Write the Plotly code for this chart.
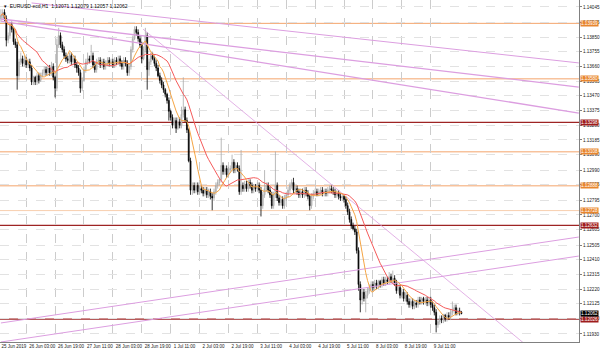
import plotly.graph_objects as go
import pandas as pd

# ---------------- data ----------------
first_open = 1.1397
closes = [
 1.1399,1.1401,1.1397,1.1383,1.1386,1.1393,1.1390,1.1382,1.1380,1.1360,
 1.1369,1.1371,1.1368,1.1370,1.1367,1.1369,1.1365,1.1356,1.1359,1.1356,
 1.1360,1.1357,1.1360,1.1362,1.1364,1.1362,1.1365,1.1362,1.1366,1.1359,
 1.1352,1.1380,1.1386,1.1380,1.1377,1.1373,1.1371,1.1370,1.1373,1.1369,
 1.1371,1.1367,1.1365,1.1362,1.1352,1.1357,1.1364,1.1369,1.1371,1.1370,
 1.1373,1.1367,1.1364,1.1369,1.1370,1.1367,1.1369,1.1366,1.1368,1.1370,
 1.1368,1.1369,1.1367,1.1370,1.1369,1.1371,1.1368,1.1366,1.1370,1.1368,
 1.1362,1.1366,1.1377,1.1384,1.1390,1.1388,1.1384,1.1380,1.1371,1.1377,
 1.1386,1.1364,1.1369,1.1373,1.1371,1.1368,1.1365,1.1360,1.1357,1.1354,
 1.1351,1.1348,1.1344,1.1337,1.1333,1.1328,1.1331,1.1326,1.1330,1.1328,
 1.1335,1.1338,1.1331,1.1325,1.1305,1.1286,1.1289,1.1286,1.1289,1.1285,
 1.1287,1.1286,1.1284,1.1286,1.1283,1.1285,1.1282,1.1281,1.1285,1.1289,
 1.1291,1.1293,1.1302,1.1298,1.1300,1.1296,1.1299,1.1300,1.1304,1.1299,
 1.1302,1.1300,1.1285,1.1289,1.1287,1.1290,1.1287,1.1291,1.1289,1.1286,
 1.1288,1.1287,1.1289,1.1286,1.1276,1.1283,1.1287,1.1289,1.1286,1.1283,
 1.1276,1.1283,1.1289,1.1281,1.1278,1.1280,1.1276,1.1281,1.1283,1.1286,
 1.1289,1.1291,1.1286,1.1287,1.1285,1.1283,1.1285,1.1283,1.1286,1.1284,
 1.1282,1.1276,1.1282,1.1284,1.1285,1.1283,1.1285,1.1286,1.1284,1.1285,
 1.1284,1.1286,1.1287,1.1286,1.1285,1.1283,1.1284,1.1282,1.1281,1.1282,
 1.1280,1.1276,1.1272,1.1267,1.1263,1.1261,1.1259,1.1247,1.1225,1.1215,
 1.1220,1.1216,1.1218,1.1221,1.1223,1.1225,1.1223,1.1226,1.1224,1.1227,
 1.1225,1.1228,1.1226,1.1228,1.1227,1.1230,1.1228,1.1229,1.1226,1.1221,
 1.1223,1.1218,1.1220,1.1216,1.1218,1.1214,1.1212,1.1214,1.1211,1.1213,
 1.1212,1.1215,1.1214,1.1216,1.1214,1.1215,1.1213,1.1215,1.1212,1.1210,
 1.1207,1.1199,1.1201,1.1203,1.1202,1.1205,1.1203,1.1205,1.1204,1.1207,
 1.1208,1.1210,1.1206,1.1208,1.12071,1.12062]
highs = [
 1.1403,1.1403,1.1403,1.1399,1.1388,1.1395,1.1395,1.1391,1.1384,1.1382,
 1.1371,1.1375,1.1373,1.1373,1.1372,1.1371,1.1371,1.1367,1.1360,1.1360,
 1.1362,1.1362,1.1362,1.1364,1.1366,1.1366,1.1367,1.1367,1.1369,1.1368,
 1.1360,1.1384,1.1391,1.1388,1.1382,1.1379,1.1375,1.1373,1.1375,1.1375,
 1.1373,1.1373,1.1369,1.1367,1.1364,1.1359,1.1366,1.1371,1.1375,1.1373,
 1.1380,1.1375,1.1369,1.1371,1.1372,1.1372,1.1371,1.1371,1.1370,1.1372,
 1.1372,1.1371,1.1371,1.1372,1.1372,1.1373,1.1373,1.1370,1.1372,1.1372,
 1.1370,1.1368,1.1379,1.1386,1.1392,1.1392,1.1390,1.1386,1.1382,1.1379,
 1.1391,1.1388,1.1371,1.1375,1.1375,1.1373,1.1370,1.1367,1.1362,1.1359,
 1.1356,1.1352,1.1349,1.1346,1.1338,1.1335,1.1333,1.1333,1.1333,1.1333,
 1.1340,1.1359,1.1340,1.1333,1.1326,1.1307,1.1291,1.1291,1.1291,1.1291,
 1.1289,1.1289,1.1288,1.1288,1.1288,1.1287,1.1287,1.1284,1.1287,1.1291,
 1.1293,1.1294,1.1320,1.1304,1.1302,1.1302,1.1301,1.1302,1.1309,1.1306,
 1.1304,1.1304,1.1302,1.1312,1.1291,1.1292,1.1292,1.1293,1.1293,1.1291,
 1.1290,1.1290,1.1291,1.1291,1.1288,1.1285,1.1299,1.1291,1.1291,1.1288,
 1.1285,1.1285,1.1311,1.1291,1.1283,1.1282,1.1282,1.1283,1.1285,1.1288,
 1.1291,1.1293,1.1294,1.1289,1.1289,1.1287,1.1287,1.1287,1.1288,1.1288,
 1.1286,1.1283,1.1284,1.1286,1.1287,1.1287,1.1287,1.1288,1.1288,1.1287,
 1.1287,1.1288,1.1289,1.1289,1.1288,1.1287,1.1286,1.1286,1.1284,1.1283,
 1.1283,1.1282,1.1278,1.1274,1.1269,1.1265,1.1263,1.1261,1.1249,1.1227,
 1.1222,1.1222,1.1221,1.1223,1.1225,1.1227,1.1227,1.1228,1.1228,1.1228,
 1.1228,1.1230,1.1230,1.1230,1.1230,1.1233,1.1232,1.1234,1.1231,1.1228,
 1.1225,1.1225,1.1222,1.1222,1.1220,1.1220,1.1216,1.1216,1.1216,1.1215,
 1.1215,1.1217,1.1217,1.1217,1.1217,1.1217,1.1217,1.1217,1.1217,1.1214,
 1.1212,1.1209,1.1203,1.1205,1.1205,1.1206,1.1206,1.1207,1.1207,1.1209,
 1.1214,1.1212,1.1212,1.1210,1.1210,1.12079]
lows = [
 1.1395,1.1397,1.1395,1.1379,1.1381,1.1384,1.1388,1.1380,1.1378,1.1351,
 1.1357,1.1367,1.1366,1.1366,1.1365,1.1365,1.1363,1.1354,1.1354,1.1354,
 1.1354,1.1355,1.1356,1.1359,1.1360,1.1360,1.1360,1.1360,1.1360,1.1357,
 1.1346,1.1350,1.1378,1.1378,1.1375,1.1371,1.1369,1.1368,1.1368,1.1367,
 1.1367,1.1365,1.1362,1.1360,1.1349,1.1350,1.1356,1.1362,1.1367,1.1368,
 1.1368,1.1365,1.1362,1.1362,1.1367,1.1365,1.1365,1.1364,1.1364,1.1366,
 1.1366,1.1366,1.1365,1.1365,1.1367,1.1367,1.1366,1.1364,1.1364,1.1366,
 1.1360,1.1360,1.1364,1.1375,1.1383,1.1386,1.1382,1.1378,1.1368,1.1370,
 1.1375,1.1351,1.1360,1.1367,1.1370,1.1366,1.1363,1.1359,1.1355,1.1352,
 1.1349,1.1346,1.1342,1.1331,1.1331,1.1326,1.1326,1.1323,1.1325,1.1326,
 1.1326,1.1333,1.1330,1.1323,1.1304,1.1283,1.1283,1.1284,1.1284,1.1283,
 1.1283,1.1284,1.1282,1.1282,1.1281,1.1281,1.1280,1.1273,1.1279,1.1283,
 1.1287,1.1289,1.1291,1.1296,1.1296,1.1294,1.1294,1.1297,1.1298,1.1297,
 1.1297,1.1298,1.1283,1.1283,1.1285,1.1285,1.1285,1.1285,1.1287,1.1284,
 1.1284,1.1285,1.1285,1.1284,1.1269,1.1274,1.1281,1.1285,1.1284,1.1281,
 1.1274,1.1274,1.1281,1.1279,1.1276,1.1276,1.1274,1.1274,1.1279,1.1281,
 1.1284,1.1287,1.1284,1.1284,1.1283,1.1281,1.1281,1.1281,1.1281,1.1282,
 1.1280,1.1273,1.1274,1.1280,1.1282,1.1282,1.1282,1.1283,1.1282,1.1282,
 1.1282,1.1282,1.1284,1.1284,1.1283,1.1281,1.1281,1.1280,1.1279,1.1279,
 1.1278,1.1274,1.1270,1.1265,1.1261,1.1260,1.1257,1.1245,1.1221,1.1207,
 1.1212,1.1214,1.1207,1.1216,1.1219,1.1221,1.1221,1.1221,1.1222,1.1222,
 1.1223,1.1223,1.1224,1.1224,1.1225,1.1225,1.1226,1.1226,1.1224,1.1219,
 1.1219,1.1216,1.1216,1.1214,1.1214,1.1212,1.1210,1.1210,1.1209,1.1209,
 1.1210,1.1210,1.1212,1.1212,1.1212,1.1212,1.1211,1.1211,1.1210,1.1208,
 1.1205,1.1194,1.1197,1.1199,1.1200,1.1200,1.1201,1.1201,1.1202,1.1202,
 1.1205,1.1206,1.1205,1.1205,1.1205,1.12057]

time_tick_bars = [0, 14, 30, 46, 62, 78, 94, 110, 126, 142, 158, 174, 190, 206, 222, 238]
time_tick_labels = ["25 Jun 2019", "26 Jun 03:00", "26 Jun 19:00", "27 Jun 11:00",
                    "28 Jun 03:00", "28 Jun 19:00", "1 Jul 11:00", "2 Jul 03:00",
                    "2 Jul 19:00", "3 Jul 11:00", "4 Jul 03:00", "4 Jul 19:00",
                    "5 Jul 11:00", "8 Jul 03:00", "8 Jul 19:00", "9 Jul 11:00"]
price_ticks = [1.14045, 1.13945, 1.13850, 1.13755, 1.13660, 1.13565, 1.13470, 1.13375,
               1.13280, 1.13185, 1.13090, 1.12990, 1.12895, 1.12795, 1.12700, 1.12605,
               1.12505, 1.12410, 1.12315, 1.12220, 1.12125, 1.12030, 1.11930]

levels = [1.13939, 1.13580, 1.13298, 1.13108, 1.12888, 1.12728, 1.12632, 1.12026]
level_kind = ["o", "o", "r", "o", "o", "lo", "r", "r"]

# trend lines: (bar index pair, price pair)
trend_bars = [[17, 320], [0, 320], [0, 320], [78.7, 320], [0, 320], [0, 320]]
trend_prices = [[1.14071, 1.13683], [1.13967, 1.13527], [1.13954, 1.13359],
                [1.13902, 1.11577], [1.12001, 1.12557], [1.11878, 1.12434]]
trend_width = [1, 1.3, 1.3, 0.8, 1, 1]

last_price = 1.12062
header = "EURUSD-ecd,H1  1.12071 1.12079 1.12057 1.12062"

# ---------------- figure ----------------
n = len(closes)
bars = list(range(n))
opens = [first_open] + closes[:-1]
cs = pd.Series(closes)
ma_fast = cs.rolling(8, min_periods=1).mean()
ma_slow = cs.rolling(21, min_periods=1).mean()

FONT = "Liberation Sans"
fig = go.Figure()

line_col = {"o": "#f4a46c", "lo": "#f8cfae", "r": "#9e2424"}
box_col = {"o": "#e8862f", "lo": "#e8862f", "r": "#9e1c1c"}
for lv, k in zip(levels, level_kind):
    fig.add_shape(type="line", xref="paper", x0=0, x1=1, yref="y", y0=lv, y1=lv,
                  line=dict(color=line_col[k], width=1.3 if k == "r" else 1), layer="below")

for bx, py, w in zip(trend_bars, trend_prices, trend_width):
    fig.add_trace(go.Scatter(x=bx, y=py, mode="lines", line=dict(color="#dc9ee0", width=w),
                             hoverinfo="skip", showlegend=False))

fig.add_trace(go.Candlestick(
    x=bars, open=opens, high=highs, low=lows, close=closes,
    increasing=dict(line=dict(color="#a8a8a8", width=0.8), fillcolor="#d4d4d4"),
    decreasing=dict(line=dict(color="#000000", width=0.8), fillcolor="#000000"),
    whiskerwidth=0, hoverinfo="skip", showlegend=False))

fig.add_trace(go.Scatter(x=bars, y=ma_slow, mode="lines", line=dict(color="#f55a5a", width=1),
                         hoverinfo="skip", showlegend=False))
fig.add_trace(go.Scatter(x=bars, y=ma_fast, mode="lines", line=dict(color="#f5a544", width=1),
                         hoverinfo="skip", showlegend=False))

ann = []
for lv, k in zip(levels, level_kind):
    ann.append(dict(xref="paper", x=1, xanchor="left", xshift=1, yref="y", y=lv,
                    text=f"{lv:.5f}", showarrow=False, bgcolor=box_col[k],
                    font=dict(family=FONT, size=4.6, color="white"), borderpad=0))
ann.append(dict(xref="paper", x=1, xanchor="left", xshift=1, yref="y", y=last_price,
                text=f"{last_price:.5f}", showarrow=False, bgcolor="#000000",
                font=dict(family=FONT, size=4.6, color="white"), borderpad=0))
ann.append(dict(xref="paper", x=0, xanchor="left", xshift=2, yref="paper", y=1, yanchor="top",
                yshift=-1, text="▾  " + header, showarrow=False,
                font=dict(family=FONT, size=5, color="black")))

tick_text = [t if i == 0 else "\u00a0\u00a0" + t for i, t in enumerate(time_tick_labels)]

fig.update_layout(
    width=600, height=350, margin=dict(l=0, r=21, t=0, b=8),
    paper_bgcolor="white", plot_bgcolor="white", showlegend=False,
    annotations=ann,
    xaxis=dict(range=[-0.5, 320.1], tickmode="array", tickvals=time_tick_bars,
               ticktext=tick_text, ticklabelposition="outside right", tickangle=0,
               showgrid=True, gridcolor="#cccccc", griddash="dash", gridwidth=1,
               showline=True, linecolor="#808080", linewidth=1, ticks="",
               tickfont=dict(family=FONT, size=4.5, color="#202020"),
               rangeslider=dict(visible=False), zeroline=False, fixedrange=True),
    yaxis=dict(range=[1.11878, 1.14090], side="right", tickmode="array",
               tickvals=price_ticks, ticktext=[f"{v:.5f}" for v in price_ticks],
               showgrid=True, gridcolor="#e2e2e2", griddash="dash", gridwidth=1,
               showline=True, linecolor="#808080", linewidth=1, ticks="outside",
               ticklen=2, tickcolor="#808080",
               tickfont=dict(family=FONT, size=4.6, color="#202020"), zeroline=False,
               fixedrange=True),
)
fig.write_html("out.html")
